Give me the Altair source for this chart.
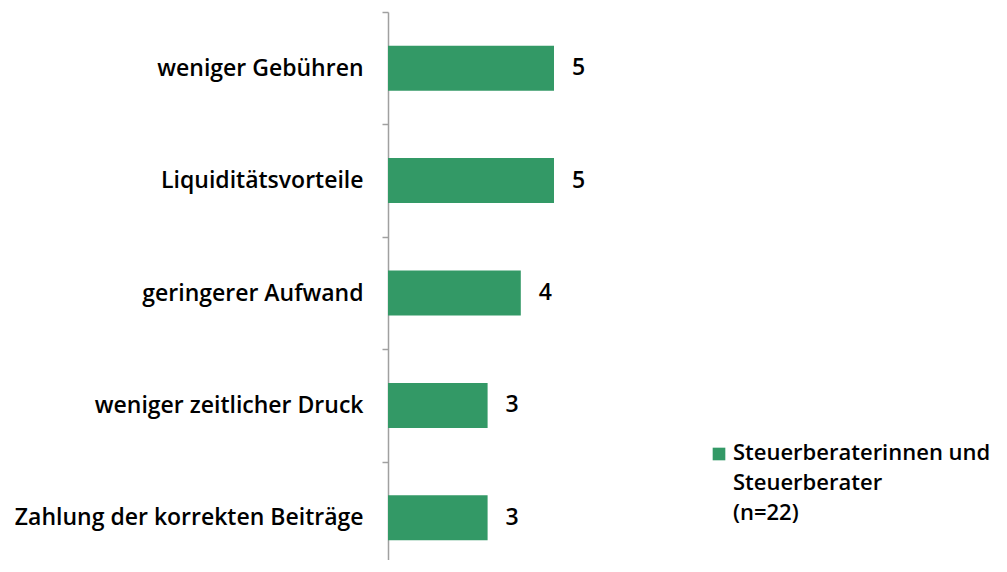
import altair as alt
import pandas as pd

categories = ["weniger Gebühren", "Liquiditätsvorteile", "geringerer Aufwand",
              "weniger zeitlicher Druck", "Zahlung der korrekten Beiträge"]
values = [5, 5, 4, 3, 3]
series_name = "Steuerberaterinnen und|Steuerberater|(n=22)"

GREEN = "#339966"
FONT = "Open Sans"
FS = 23

df = pd.DataFrame({"cat": categories, "val": values})
leg = pd.DataFrame({"label": [series_name]})

y_enc = alt.Y("cat:N", sort=categories,
              scale=alt.Scale(range=[0, 562], paddingInner=0, paddingOuter=0),
              axis=alt.Axis(title=None, tickBand="extent", ticks=True, tickSize=6,
                            tickColor="#a0a0a0", domainColor="#a0a0a0", domainWidth=1.5,
                            tickWidth=1.5, labelPadding=19, labelFont=FONT,
                            labelFontSize=FS, labelFontWeight=600, labelColor="#000000",
                            labelLimit=400, grid=False))
x_enc = alt.X("val:Q", scale=alt.Scale(domain=[0, 10]), axis=None)

bars = alt.Chart(df).mark_bar(color=GREEN, height={"band": 0.4}).encode(y=y_enc, x=x_enc)
texts = alt.Chart(df).mark_text(align="left", dx=18, font=FONT, fontSize=FS,
                                fontWeight=600, color="#000000").encode(
    y=alt.Y("cat:N", sort=categories), x="val:Q", text="val:Q")

leg_sq = alt.Chart(leg).mark_square(color=GREEN, size=160, opacity=1).encode(
    x=alt.value(331), y=alt.value(442))
leg_txt = alt.Chart(leg).transform_calculate(
    lines="split(datum.label, '|')").mark_text(
    align="left", baseline="alphabetic", lineHeight=30, font=FONT, fontSize=22,
    fontWeight=600, color="#000000").encode(
    x=alt.value(345), y=alt.value(448), text="lines:N")

chart = alt.layer(bars, texts, leg_sq, leg_txt).properties(
    width=332, height=548,
    autosize=alt.AutoSizeParams(type="none"),
    padding={"left": 380, "top": 4, "right": 279, "bottom": 0},
).configure_view(stroke=None)

chart.save("out.html", embed_options={"renderer": "svg", "actions": False})
